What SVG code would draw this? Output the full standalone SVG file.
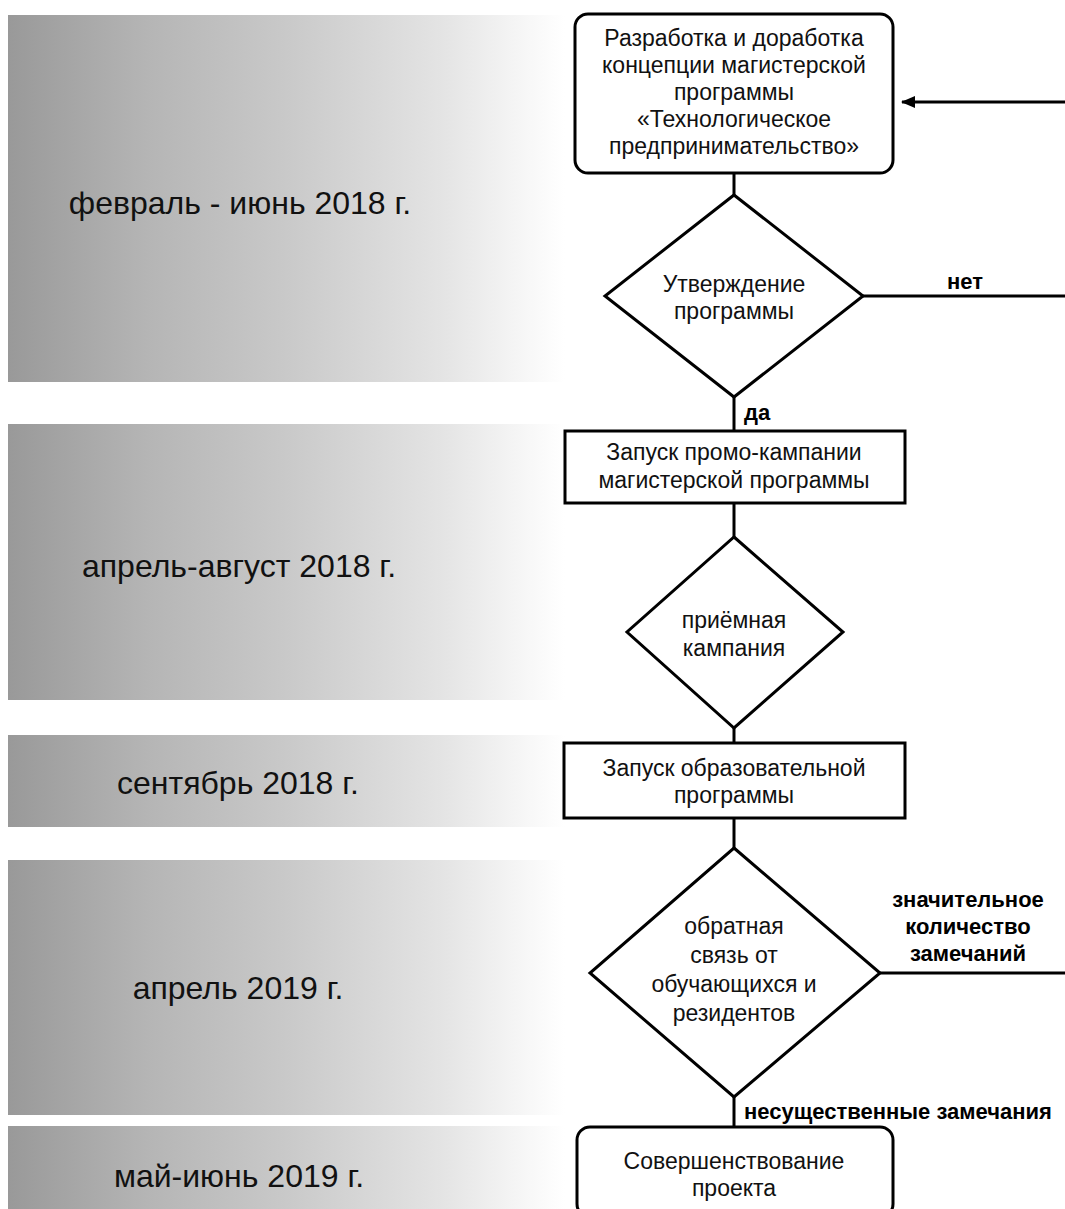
<svg xmlns="http://www.w3.org/2000/svg" width="1065" height="1209" viewBox="0 0 1065 1209">
  <defs>
    <linearGradient id="bandFill" x1="0" y1="0" x2="1" y2="0">
      <stop offset="0" stop-color="#999999"/>
      <stop offset="0.25" stop-color="#b5b5b5"/>
      <stop offset="0.5" stop-color="#c9c9c9"/>
      <stop offset="0.78" stop-color="#e4e4e4"/>
      <stop offset="0.93" stop-color="#f7f7f7"/>
      <stop offset="1" stop-color="#ffffff"/>
    </linearGradient>
    <marker id="arrow" viewBox="0 0 14 12" refX="13" refY="6" markerWidth="14" markerHeight="12" markerUnits="userSpaceOnUse" orient="auto">
      <path d="M0,0 L14,6 L0,12 Z" fill="#000"/>
    </marker>
    <style>
      .band { fill: url(#bandFill); }
      .period { font-family: "Liberation Sans", Arial, sans-serif; font-size: 32px; fill: #111; text-anchor: middle; }
      .shape { fill: #fff; stroke: #000; stroke-width: 3; }
      .label { font-family: "Liberation Sans", Arial, sans-serif; font-size: 23px; fill: #111; text-anchor: middle; }
      .edge { fill: none; stroke: #000; stroke-width: 3; }
      .edge-label { font-family: "Liberation Sans", Arial, sans-serif; font-size: 22px; font-weight: bold; fill: #000; }
    </style>
  </defs>

  <rect width="1065" height="1209" fill="#fff"/>

  <!-- timeline bands -->
  <g id="bands">
    <rect class="band" x="8" y="15" width="557" height="367"/>
    <rect class="band" x="8" y="424" width="557" height="276"/>
    <rect class="band" x="8" y="735" width="557" height="92"/>
    <rect class="band" x="8" y="860" width="557" height="255"/>
    <rect class="band" x="8" y="1126" width="557" height="90"/>
    <text class="period" x="240" y="214">февраль - июнь 2018 г.</text>
    <text class="period" x="239" y="577">апрель-август 2018 г.</text>
    <text class="period" x="238" y="794">сентябрь 2018 г.</text>
    <text class="period" x="238" y="999">апрель 2019 г.</text>
    <text class="period" x="239" y="1187">май-июнь 2019 г.</text>
  </g>

  <!-- connectors -->
  <g id="connectors">
    <line class="edge" x1="734" y1="173" x2="734" y2="195"/>
    <line class="edge" x1="863" y1="296" x2="1065" y2="296"/>
    <line class="edge" x1="1065" y1="102" x2="902" y2="102" marker-end="url(#arrow)"/>
    <line class="edge" x1="734" y1="397" x2="734" y2="431"/>
    <line class="edge" x1="734" y1="503" x2="734" y2="537"/>
    <line class="edge" x1="734" y1="728" x2="734" y2="743"/>
    <line class="edge" x1="734" y1="818" x2="734" y2="848"/>
    <line class="edge" x1="880" y1="973" x2="1065" y2="973"/>
    <line class="edge" x1="734" y1="1097" x2="734" y2="1127"/>
    <text class="edge-label" x="947" y="289">нет</text>
    <text class="edge-label" x="744" y="420">да</text>
    <text class="edge-label" x="968" y="907" text-anchor="middle">значительное</text>
    <text class="edge-label" x="968" y="934" text-anchor="middle">количество</text>
    <text class="edge-label" x="968" y="961" text-anchor="middle">замечаний</text>
    <text class="edge-label" x="744" y="1119">несущественные замечания</text>
  </g>

  <g id="develop-concept">
    <rect class="shape" x="575" y="14" width="318" height="159" rx="13"/>
    <text class="label" x="734" y="46">Разработка и доработка</text>
    <text class="label" x="734" y="73">концепции магистерской</text>
    <text class="label" x="734" y="100">программы</text>
    <text class="label" x="734" y="127">«Технологическое</text>
    <text class="label" x="734" y="154">предпринимательство»</text>
  </g>

  <g id="approve-program">
    <polygon class="shape" points="734,195 863,296 734,397 605,296"/>
    <text class="label" x="734" y="292">Утверждение</text>
    <text class="label" x="734" y="319">программы</text>
  </g>

  <g id="promo-campaign">
    <rect class="shape" x="565" y="431" width="340" height="72"/>
    <text class="label" x="734" y="460">Запуск промо-кампании</text>
    <text class="label" x="734" y="488">магистерской программы</text>
  </g>

  <g id="admission">
    <polygon class="shape" points="734,537 843,632 734,728 627,632"/>
    <text class="label" x="734" y="628">приёмная</text>
    <text class="label" x="734" y="656">кампания</text>
  </g>

  <g id="launch-program">
    <rect class="shape" x="564" y="743" width="341" height="75"/>
    <text class="label" x="734" y="776">Запуск образовательной</text>
    <text class="label" x="734" y="803">программы</text>
  </g>

  <g id="feedback">
    <polygon class="shape" points="734,848 880,973 734,1097 590,973"/>
    <text class="label" x="734" y="934">обратная</text>
    <text class="label" x="734" y="963">связь от</text>
    <text class="label" x="734" y="992">обучающихся и</text>
    <text class="label" x="734" y="1021">резидентов</text>
  </g>

  <g id="improve-project">
    <rect class="shape" x="577" y="1127" width="316" height="90" rx="13"/>
    <text class="label" x="734" y="1169">Совершенствование</text>
    <text class="label" x="734" y="1196">проекта</text>
  </g>
</svg>
